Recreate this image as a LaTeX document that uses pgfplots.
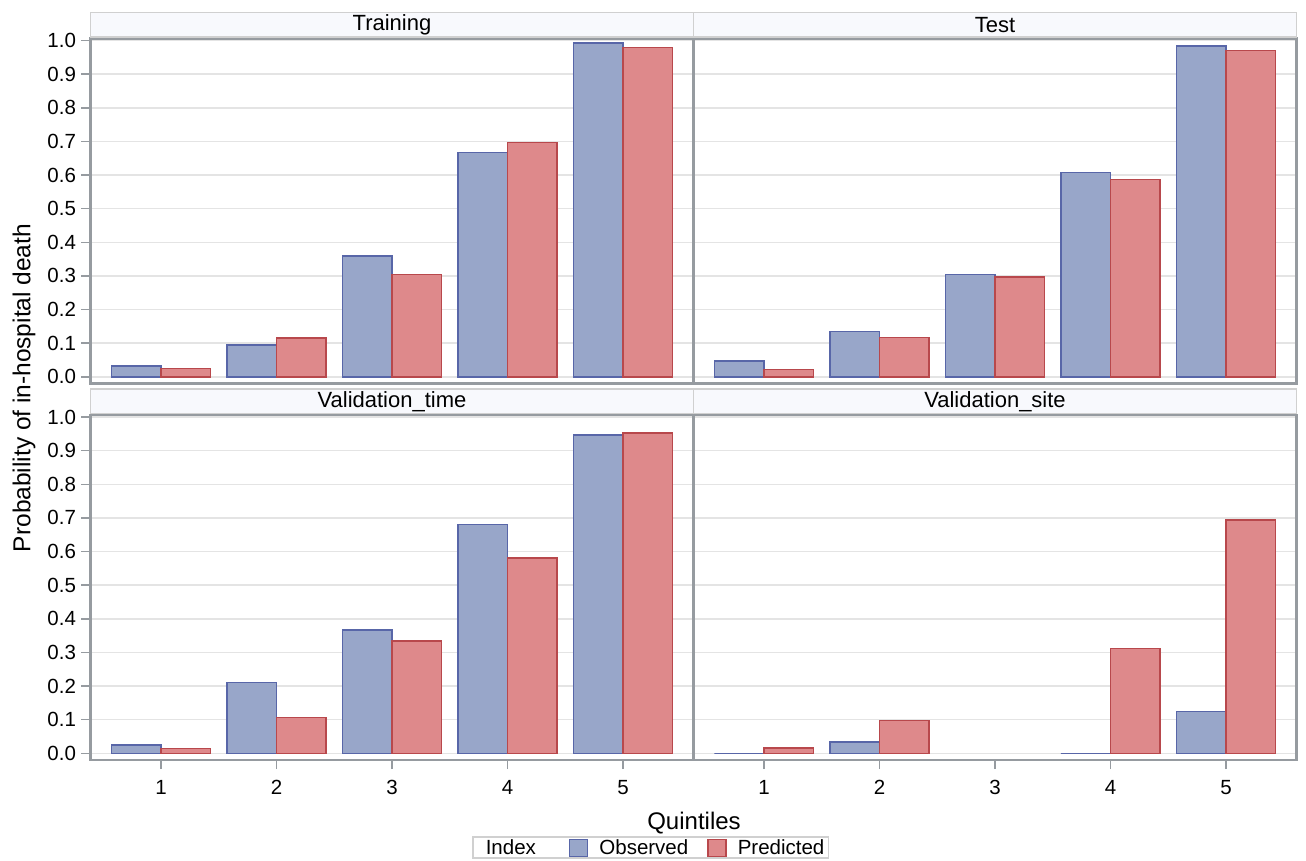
\documentclass[border=0pt]{standalone}
\usepackage{fontspec}
\setmainfont{Liberation Sans}
\usepackage{pgfplots}
\usepackage{pgfplotstable}
\pgfplotsset{compat=1.18}
\usetikzlibrary{calc}

\definecolor{obsfill}{RGB}{152,166,201}
\definecolor{obsedge}{RGB}{88,102,168}
\definecolor{predfill}{RGB}{222,137,139}
\definecolor{prededge}{RGB}{184,72,76}
\definecolor{headfill}{RGB}{248,249,253}
\definecolor{headdraw}{RGB}{208,208,208}
\definecolor{framegray}{RGB}{150,155,160}
\definecolor{gridgray}{RGB}{228,228,228}

\pgfplotstableread{
q obs pred
1 0.032 0.024
2 0.095 0.116
3 0.359 0.304
4 0.667 0.696
5 0.993 0.979
}\training
\pgfplotstableread{
q obs pred
1 0.047 0.022
2 0.135 0.117
3 0.304 0.297
4 0.607 0.586
5 0.983 0.971
}\test
\pgfplotstableread{
q obs pred
1 0.024 0.014
2 0.211 0.107
3 0.366 0.334
4 0.680 0.580
5 0.946 0.952
}\valtime
\pgfplotstableread{
q obs pred
1 0.000 0.015
2 0.034 0.098
4 0.000 0.312
5 0.124 0.693
}\valsite

\pgfplotsset{
  panel/.style={
    width=603pt, height=345pt, scale only axis,
    xmin=0.39, xmax=5.61, ymin=-0.02, ymax=1.006,
    ybar, bar width=0.43,
    xtick={1,2,3,4,5},
    ytick={0,0.1,0.2,0.3,0.4,0.5,0.6,0.7,0.8,0.9,1.0},
    ymajorgrids,
    major grid style={draw=gridgray, line width=1.5pt},
    axis line style={draw=framegray, line width=2.4pt},
    tick align=outside, tick pos=left,
    major tick length=9pt,
    tick style={draw=framegray, line width=1.5pt},
    tick label style={font=\fontsize{20.5}{24}\selectfont},
    yticklabel style={xshift=-2pt, /pgf/number format/.cd, fixed, fixed zerofill, precision=1, assume math mode=true},
    xticklabel style={yshift=-8pt, /pgf/number format/assume math mode=true},
    clip=false,
  },
  notx/.style={xtick=\empty},
  noty/.style={yticklabels={}, ytick style={draw=none}},
  obsbar/.style={fill=obsfill, draw=obsedge, line width=1.5pt, bar shift=-0.215},
  predbar/.style={fill=predfill, draw=prededge, line width=1.5pt, bar shift=0.215},
}

\newcommand{\header}[2]{%
  \draw[fill=headfill, draw=headdraw, line width=1.5pt]
    ([yshift=1.5pt]#1.north west) rectangle ([yshift=26pt]#1.north east);
  \node[font=\fontsize{22}{25}\selectfont, anchor=center]
    at ($([yshift=13.75pt]#1.north west)!0.5!([yshift=13.75pt]#1.north east)$) {#2};
}

\begin{document}
\begin{tikzpicture}[font=\fontsize{20.5}{24}\selectfont]
\path[use as bounding box] (0,0) rectangle (1306pt,860pt);

% top-left: Training
\begin{axis}[panel, notx, name=tl, at={(90.5pt,476.5pt)}, anchor=south west]
  \addplot[obsbar] table[x=q, y=obs] {\training};
  \addplot[predbar] table[x=q, y=pred] {\training};
\end{axis}

% top-right: Test
\begin{axis}[panel, notx, noty, name=tr, at={(693.5pt,476.5pt)}, anchor=south west]
  \addplot[obsbar] table[x=q, y=obs] {\test};
  \addplot[predbar] table[x=q, y=pred] {\test};
\end{axis}

% bottom-left: Validation_time
\begin{axis}[panel, name=bl, at={(90.5pt,100pt)}, anchor=south west,
  legend columns=3,
  legend style={at={(0.6327,-0.2203)}, anchor=north west,
    draw=headdraw, line width=1.5pt, fill=white,
    font=\fontsize{20.5}{23}\selectfont,
    inner xsep=2pt, inner ysep=0.5pt,
    /tikz/every odd column/.append style={column sep=9pt},
    /tikz/every even column/.append style={column sep=17pt}},
  legend image code/.code={\draw[#1, line width=1.5pt] (0pt,-9pt) rectangle (18pt,8pt);},
  ]
  \addlegendimage{empty legend}
  \addlegendentry{Index\kern14pt}
  \addplot[obsbar] table[x=q, y=obs] {\valtime};
  \addlegendentry{Observed}
  \addplot[predbar] table[x=q, y=pred] {\valtime};
  \addlegendentry{Predicted}
\end{axis}

% bottom-right: Validation_site
\begin{axis}[panel, noty, name=br, at={(693.5pt,100pt)}, anchor=south west]
  \addplot[obsbar] table[x=q, y=obs] {\valsite};
  \addplot[predbar] table[x=q, y=pred] {\valsite};
\end{axis}

\header{tl}{Training}
\header{tr}{Test}
\header{bl}{Validation\_time}
\header{br}{Validation\_site}

\node[font=\fontsize{24}{27}\selectfont, anchor=base] at (694pt,31pt) {Quintiles};
\node[font=\fontsize{24.5}{28}\selectfont, rotate=90, anchor=center] at (24pt,472pt) {Probability of in-hospital death};
\end{tikzpicture}
\end{document}
